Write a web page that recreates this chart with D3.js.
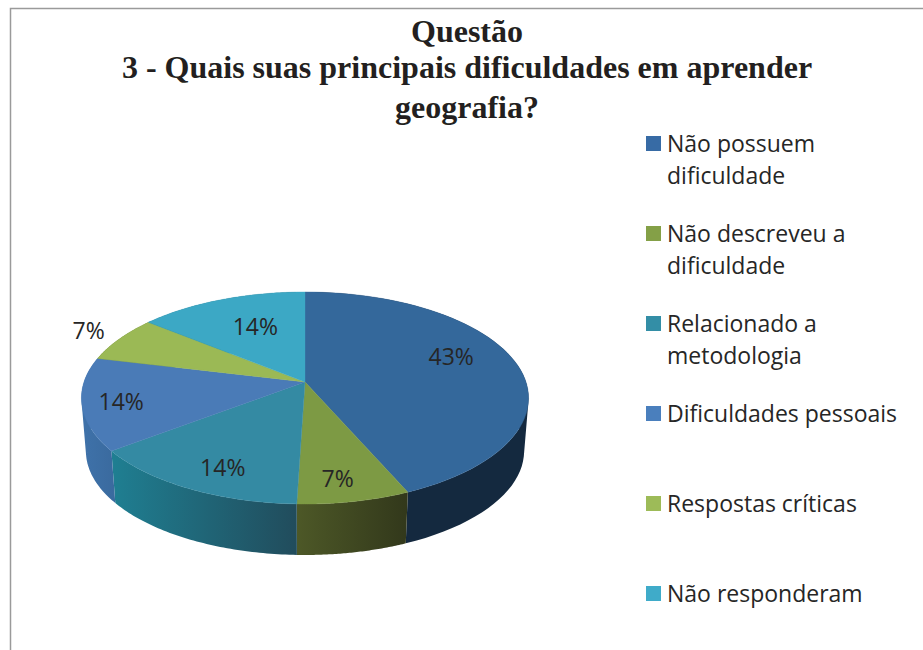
<!DOCTYPE html>
<html><head><meta charset="utf-8">
<script src="https://cdn.jsdelivr.net/npm/d3@7/dist/d3.min.js"></script>
<style>html,body{margin:0;padding:0;background:#fff;overflow:hidden}svg{display:block}</style>
</head><body><svg id="c" width="923" height="650"></svg>
<script>
const titleLines = ["Questão", "3 - Quais suas principais dificuldades em aprender", "geografia?"];
const legendLabels = [["Não possuem","dificuldade"],["Não descreveu a","dificuldade"],["Relacionado a","metodologia"],["Dificuldades pessoais"],["Respostas críticas"],["Não responderam"]];
const values = [43, 7, 14, 14, 7, 14];
const topColors = ["#34689b","#7d9a44","#348aa3","#4a7bb7","#9bb955","#3ca8c5"];
const legendColors = ["#376ba5","#84a047","#338ea6","#4a7fbd","#9dbb58","#3fabc9"];
const sideLeft = ["#14293f","#4d5827","#1f7f92","#3f72aa","#5d7030","#20657a"];
const sideRight = ["#14293f","#32381b","#214c5c","#3a6a9e","#5d7030","#20657a"];
// layout only
const labelNudge = [[-2,-10.5],[0,17],[-4,15],[-29,5],[-84,-20],[11,4.5]];
const legendRowY = [144,234,324,414,504,594];

const svg = d3.select("#c");
const px=305, py=382, A=221, B=103.6, k=0.151, depth=53.4, shrink=0.98;
const proj = (a, r=1, s=1, dy=0) => {
  const u=Math.sin(a)*r, v=-Math.cos(a)*r, w=1-k*v;
  return [px+s*A*u/w, py+dy+s*B*v/w];
};
const arcs = d3.pie().sort(null).value(d=>d)(values);
const samples = (a0,a1,n=60)=>d3.range(n+1).map(i=>a0+(a1-a0)*i/n);
const line = d3.line();
const defs = svg.append("defs");

// frame
svg.append("path").attr("d",d3.line()([[10.5,650],[10.5,8.5],[923,8.5]])).attr("fill","none").attr("stroke","#9a9a9a").attr("stroke-width",1.5);

// sides: the swept wall of each slice, built from quads so the silhouette stays tangent
arcs.forEach((d,i)=>{
  const as=samples(d.startAngle,d.endAngle);
  const xs=as.flatMap(a=>[proj(a)[0],proj(a,1,shrink,depth)[0]]);
  const g=defs.append("linearGradient").attr("id","s"+i).attr("gradientUnits","userSpaceOnUse")
    .attr("x1",d3.min(xs)).attr("x2",d3.max(xs)).attr("y1",0).attr("y2",0);
  g.append("stop").attr("offset","0%").attr("stop-color",sideLeft[i]);
  g.append("stop").attr("offset","100%").attr("stop-color",sideRight[i]);
  const quads=d3.pairs(as).map(([a,b])=>{
    const q=[proj(a),proj(b),proj(b,1,shrink,depth),proj(a,1,shrink,depth)];
    return d3.polygonArea(q)<0 ? q.reverse() : q;
  });
  svg.append("path").attr("d",quads.map(q=>line(q)+"Z").join("")).attr("fill",`url(#s${i})`);
});
// top faces
arcs.forEach((d,i)=>{
  const pts=[[px,py]].concat(samples(d.startAngle,d.endAngle).map(a=>proj(a)));
  svg.append("path").attr("d",line(pts)+"Z").attr("fill",topColors[i]).attr("stroke",topColors[i]).attr("stroke-width",0.4);
});
// labels
arcs.forEach((d,i)=>{
  const p=proj((d.startAngle+d.endAngle)/2,0.7);
  svg.append("text").attr("x",p[0]+labelNudge[i][0]).attr("y",p[1]+labelNudge[i][1]).attr("dy",".35em")
    .attr("text-anchor","middle").attr("font-family","'Open Sans'").attr("font-size",23).attr("fill","#262626")
    .text(d3.format(".0f")(d.value)+"%");
});
// title
const titleY=[42,78,118];
titleLines.forEach((t,i)=>svg.append("text").attr("x",467).attr("y",titleY[i]).attr("text-anchor","middle")
  .attr("font-family","'Liberation Serif'").attr("font-weight","bold").attr("font-size",32).attr("fill","#231f20").text(t));
// legend
legendLabels.forEach((ls,i)=>{
  svg.append("rect").attr("x",646).attr("y",legendRowY[i]-8).attr("width",15).attr("height",15).attr("fill",legendColors[i]);
  ls.forEach((t,j)=>svg.append("text").attr("x",667).attr("y",legendRowY[i]+8+j*32)
    .attr("font-family","'Open Sans'").attr("font-size",23).attr("fill","#262626").text(t));
});
</script></body></html>
